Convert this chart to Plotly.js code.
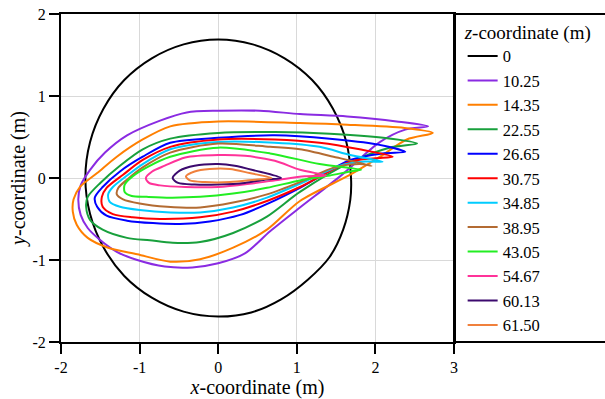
<!DOCTYPE html>
<html>
<head>
<meta charset="utf-8">
<script src="https://cdn.plot.ly/plotly-3.0.1.min.js"></script>
<style>
html,body{margin:0;padding:0;background:#fff;}
#chart{width:605px;height:399px;}
#legendbox{position:absolute;left:453px;top:13px;width:160px;height:330px;border:2px solid #000;box-sizing:border-box;pointer-events:none;z-index:5;}
</style>
</head>
<body>
<div id="chart"></div>
<div id="legendbox"></div>
<script>
// z-coordinate levels (legend labels)
const zLabels = ['0','10.25','14.35','22.55','26.65','30.75','34.85','38.95','43.05','54.67','60.13','61.50'];
const colors = ['#000000','#8a2be2','#ff7f00','#18a03c','#0000ff','#ff0000','#00ccff','#b36b32','#22ee22','#ff3399','#3c0a6e','#f0803c'];

// contour points (x, y in metres)
const x_0 = [1.69,1.63,1.46,1.195,0.845,0.44,0,-0.44,-0.845,-1.195,-1.46,-1.63,-1.69,-1.63,-1.46,-1.195,-0.845,-0.44,0,0.42,0.8,1.14,1.42,1.59,1.68,1.69];
const y_0 = [0,0.44,0.845,1.195,1.46,1.63,1.69,1.63,1.46,1.195,0.845,0.44,0,-0.44,-0.845,-1.195,-1.46,-1.63,-1.69,-1.64,-1.48,-1.24,-0.96,-0.63,-0.27,0];

const x_1025 = [2.67,2.27,1.64,1.04,0.53,0,-0.40,-0.74,-1.16,-1.44,-1.63,-1.75,-1.78,-1.75,-1.66,-1.51,-1.29,-1.03,-0.68,-0.33,0,0.34,0.66,1.04,1.55,2.06,2.38,2.67];
const y_1025 = [0.63,0.69,0.75,0.78,0.82,0.82,0.80,0.70,0.52,0.31,0.10,-0.09,-0.26,-0.45,-0.61,-0.75,-0.90,-1.00,-1.08,-1.09,-1.04,-0.92,-0.65,-0.36,0.02,0.44,0.59,0.63];

const x_1435 = [2.73,2.37,1.64,1.04,0,-0.61,-0.96,-1.29,-1.54,-1.76,-1.84,-1.85,-1.80,-1.66,-1.40,-1.03,-0.61,-0.23,0.19,0.62,1.04,1.68,2.06,2.40,2.73];
const y_1435 = [0.55,0.61,0.65,0.67,0.69,0.63,0.47,0.26,0.06,-0.11,-0.26,-0.41,-0.57,-0.73,-0.85,-0.93,-1.02,-0.99,-0.85,-0.63,-0.28,0.04,0.26,0.47,0.55];

const x_2255 = [2.53,2.10,1.42,0.72,0,-0.61,-0.96,-1.25,-1.50,-1.66,-1.68,-1.63,-1.47,-1.16,-0.87,-0.58,-0.23,0.19,0.62,1.04,1.68,2.18,2.53];
const y_2255 = [0.42,0.49,0.54,0.56,0.55,0.48,0.35,0.15,-0.06,-0.23,-0.35,-0.51,-0.63,-0.73,-0.76,-0.79,-0.78,-0.67,-0.47,-0.17,0.19,0.37,0.42];

const x_2665 = [2.38,2.02,1.42,0.72,0,-0.61,-0.96,-1.25,-1.47,-1.57,-1.54,-1.42,-1.16,-0.83,-0.49,-0.11,0.28,0.66,1.04,1.68,2.09,2.38];
const y_2665 = [0.32,0.41,0.48,0.52,0.49,0.43,0.26,0.08,-0.11,-0.24,-0.35,-0.46,-0.52,-0.55,-0.56,-0.53,-0.45,-0.30,-0.12,0.22,0.30,0.32];

const x_3075 = [2.22,1.80,1.29,0.72,0,-0.61,-0.96,-1.21,-1.42,-1.48,-1.47,-1.34,-1.09,-0.74,-0.23,0.19,0.62,1.04,1.68,2.0,2.22];
const y_3075 = [0.26,0.35,0.43,0.47,0.47,0.38,0.22,0.04,-0.12,-0.23,-0.35,-0.44,-0.48,-0.50,-0.48,-0.41,-0.28,-0.11,0.20,0.24,0.26];

const x_3485 = [2.09,1.68,1.29,0.72,0,-0.61,-0.96,-1.16,-1.34,-1.40,-1.38,-1.25,-1.0,-0.61,-0.23,0.19,0.62,1.04,1.55,1.87,2.09];
const y_3485 = [0.20,0.28,0.38,0.43,0.44,0.35,0.17,0.03,-0.11,-0.20,-0.29,-0.35,-0.39,-0.42,-0.42,-0.36,-0.24,-0.07,0.15,0.20,0.20];

const x_3895 = [1.95,1.51,1.04,0.66,0,-0.61,-0.96,-1.16,-1.27,-1.29,-1.21,-1.0,-0.65,-0.23,0.19,0.62,1.04,1.48,1.80,1.95];
const y_3895 = [0.15,0.25,0.35,0.38,0.42,0.31,0.13,-0.02,-0.12,-0.20,-0.26,-0.31,-0.35,-0.36,-0.30,-0.20,-0.05,0.13,0.17,0.15];

const x_4305 = [1.82,1.29,0.66,0,-0.61,-0.89,-1.09,-1.19,-1.19,-1.10,-0.91,-0.61,-0.23,0.19,0.62,1.04,1.42,1.68,1.82];
const y_4305 = [0.10,0.17,0.30,0.37,0.26,0.14,0.02,-0.08,-0.17,-0.22,-0.23,-0.24,-0.23,-0.19,-0.12,-0.03,0.03,0.08,0.10];

const x_5467 = [1.37,1.04,0.72,0.34,0,-0.42,-0.68,-0.84,-0.92,-0.88,-0.74,-0.42,0,0.40,0.78,1.10,1.37];
const y_5467 = [0.03,0.10,0.21,0.27,0.28,0.25,0.15,0.08,0.00,-0.06,-0.09,-0.11,-0.11,-0.07,-0.02,0.02,0.03];

const x_6013 = [0.80,0.47,0.21,0,-0.30,-0.49,-0.58,-0.51,-0.30,0,0.34,0.59,0.80];
const y_6013 = [0.00,0.09,0.15,0.17,0.15,0.09,0.00,-0.06,-0.08,-0.08,-0.06,-0.02,0.00];

const x_6150 = [0.68,0.40,0.15,-0.11,-0.30,-0.41,-0.36,-0.17,0.15,0.47,0.68];
const y_6150 = [0.00,0.06,0.11,0.11,0.08,0.02,-0.03,-0.05,-0.05,-0.02,0.00];

const xTickVals = [-2,-1,0,1,2,3];
const yTickVals = [-2,-1,0,1,2];

const xs = [x_0,x_1025,x_1435,x_2255,x_2665,x_3075,x_3485,x_3895,x_4305,x_5467,x_6013,x_6150];
const ys = [y_0,y_1025,y_1435,y_2255,y_2665,y_3075,y_3485,y_3895,y_4305,y_5467,y_6013,y_6150];

const FAM = 'Liberation Serif';

function drawChart() {
  const plotTraces = zLabels.map(function(name, i) {
    return {
      x: xs[i], y: ys[i], name: name, type: 'scatter', mode: 'lines',
      line: {color: colors[i], width: 2, shape: 'spline', smoothing: i === 0 ? 1 : 0.8}
    };
  });

  function axisBase() {
    return {
      showline: true, linecolor: '#000', linewidth: 2, mirror: true,
      ticks: 'outside', ticklen: 10, tickwidth: 2, tickcolor: '#000',
      showgrid: true, gridcolor: '#d9d9d9', gridwidth: 1, zeroline: false,
      tickfont: {family: FAM, size: 16, color: '#000'}
    };
  }

  const ax = axisBase();
  ax.range = [-2, 3];
  ax.tickvals = xTickVals;
  ax.ticktext = xTickVals.map(String);
  ax.title = {text: '<i>x</i>-coordinate (m)', font: {family: FAM, size: 20, color: '#000'}, standoff: 2};

  const ay = axisBase();
  ay.range = [-2, 2];
  ay.tickvals = yTickVals;
  ay.ticktext = yTickVals.map(String);
  ay.title = {text: '<i>y</i>-coordinate (m)', font: {family: FAM, size: 20, color: '#000'}, standoff: 1};

  const plotLayout = {
    width: 605, height: 399,
    margin: {l: 61, r: 151, t: 14, b: 57, pad: 0, autoexpand: false},
    paper_bgcolor: '#fff', plot_bgcolor: '#fff',
    font: {family: FAM, size: 17, color: '#000'},
    showlegend: true,
    xaxis: ax,
    yaxis: ay,
    legend: {
      x: 1.022, xanchor: 'left', y: 1, yanchor: 'top',
      bgcolor: 'rgba(0,0,0,0)', borderwidth: 0, maxheight: 1,
      font: {family: FAM, size: 16.5, color: '#000'},
      title: {text: '<i>z</i>-coordinate (m)', font: {family: FAM, size: 19, color: '#000'}},
      itemwidth: 30
    },
    shapes: [{
      type: 'rect', xref: 'paper', yref: 'paper', x0: 1, x1: 1.6, y0: 0, y1: 1,
      line: {color: '#000', width: 2}, fillcolor: 'rgba(0,0,0,0)'
    }]
  };

  Plotly.newPlot('chart', plotTraces, plotLayout, {staticPlot: true});
}

drawChart();
</script>
</body>
</html>
